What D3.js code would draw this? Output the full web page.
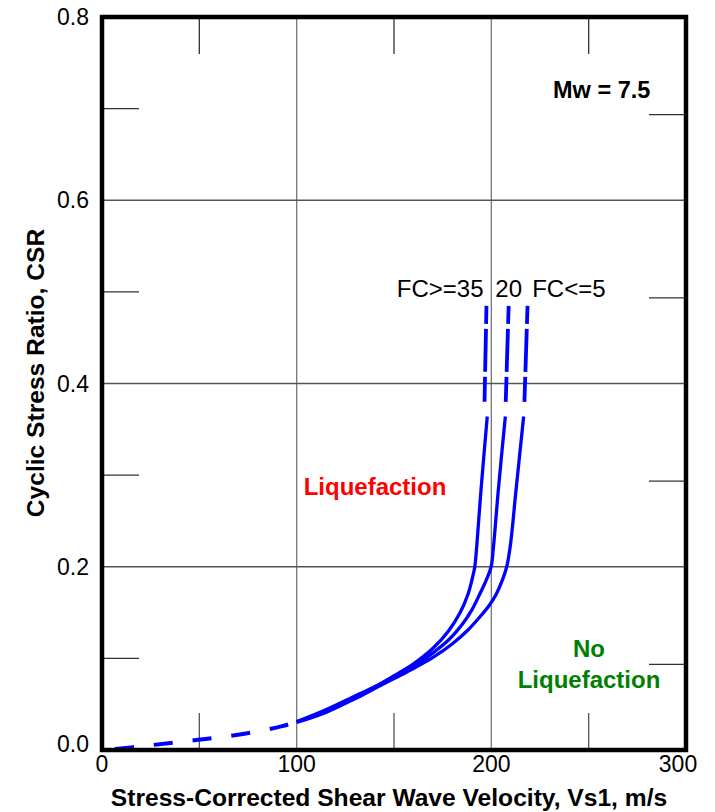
<!DOCTYPE html>
<html>
<head>
<meta charset="utf-8">
<script src="https://cdn.jsdelivr.net/npm/d3@7"></script>
<style>
    body { margin: 0; background: #fff; }
    text { font-family: Arial, "Liberation Sans", sans-serif; }
</style>
</head>
<body>
<script>
// ticks
const xTicks = [0, 100, 200, 300];
const yTicks = [0, 0.2, 0.4, 0.6, 0.8];
const xMinor = [50, 150, 250];
const yMinor = [0.1, 0.3, 0.5, 0.7];

// shared low-velocity part (dashed)
const lowDashed = [[6.7, 0.001], [20, 0.004], [36.4, 0.008], [56.4, 0.0128], [76.8, 0.019], [92.5, 0.026], [100, 0.0306]];

// solid parts of the three curves, [Vs1, CSR]
const fc35 = [[100, 0.031], [115, 0.044], [130, 0.059], [140, 0.069], [150, 0.081], [160, 0.094], [170, 0.111],
    [178, 0.130], [184, 0.150], [188, 0.170], [190.3, 0.188], [191.5, 0.2], [192.6, 0.225], [194.7, 0.284], [197.9, 0.364]];
const fc20 = [[100, 0.0306], [115, 0.0425], [130, 0.057], [140, 0.068], [150, 0.079], [160, 0.091], [170, 0.106],
    [178, 0.120], [185, 0.137], [190, 0.153], [194, 0.170], [197.5, 0.186], [199.9, 0.2], [201.1, 0.222], [203.6, 0.284], [207.2, 0.364]];
const fc5 = [[100, 0.030], [115, 0.041], [130, 0.056], [140, 0.067], [150, 0.078], [160, 0.089], [170, 0.101],
    [180, 0.116], [188, 0.131], [194, 0.145], [199, 0.158], [202.5, 0.170], [205.4, 0.184], [207.9, 0.2], [209.7, 0.222], [212.7, 0.284], [216.6, 0.364]];

// dashed upper extensions
const fc35Top = [[196.5, 0.38], [197.5, 0.485]];
const fc20Top = [[207.4, 0.38], [208.9, 0.485]];
const fc5Top = [[217, 0.38], [218.6, 0.485]];

const curveLabels = [
    { text: "FC>=35", x: 196, anchor: "end" },
    { text: "20", x: 208.9, anchor: "middle" },
    { text: "FC<=5", x: 221, anchor: "start" }
];

const width = 715, height = 812;
const x = d3.scaleLinear().domain([0, 300]).range([102, 686]);
const y = d3.scaleLinear().domain([0, 0.8]).range([750, 17]);

const svg = d3.select("body").append("svg")
    .attr("width", width)
    .attr("height", height);

// grid lines
svg.selectAll("line.gx")
    .data(xTicks.slice(1, -1))
  .enter().append("line")
    .attr("class", "gx")
    .attr("x1", d => x(d)).attr("x2", d => x(d))
    .attr("y1", y(0)).attr("y2", y(0.8))
    .attr("stroke", "#777").attr("stroke-width", 1.3);

svg.selectAll("line.gy")
    .data(yTicks.slice(1, -1))
  .enter().append("line")
    .attr("class", "gy")
    .attr("x1", x(0)).attr("x2", x(300))
    .attr("y1", d => y(d)).attr("y2", d => y(d))
    .attr("stroke", "#555").attr("stroke-width", 1.3);

// minor ticks, inside the frame on all four sides
const tickLen = 37;
xMinor.forEach(v => {
    svg.append("line")
        .attr("x1", x(v)).attr("x2", x(v))
        .attr("y1", y(0.8)).attr("y2", y(0.8) + tickLen)
        .attr("stroke", "#333").attr("stroke-width", 1.3);
    svg.append("line")
        .attr("x1", x(v)).attr("x2", x(v))
        .attr("y1", y(0)).attr("y2", y(0) - tickLen)
        .attr("stroke", "#555").attr("stroke-width", 1.3);
});
yMinor.forEach(v => {
    svg.append("line")
        .attr("x1", x(0)).attr("x2", x(0) + tickLen)
        .attr("y1", y(v)).attr("y2", y(v))
        .attr("stroke", "#333").attr("stroke-width", 1.3);
    svg.append("line")
        .attr("x1", x(300)).attr("x2", x(300) - tickLen)
        .attr("y1", y(v) + 6).attr("y2", y(v) + 6)
        .attr("stroke", "#333").attr("stroke-width", 1.3);
});

// curves
const line = d3.line()
    .x(d => x(d[0]))
    .y(d => y(d[1]))
    .curve(d3.curveCatmullRom.alpha(0.5));

svg.append("path")
    .datum(lowDashed)
    .attr("d", line)
    .attr("fill", "none")
    .attr("stroke", "#0000ff")
    .attr("stroke-width", 4)
    .attr("stroke-dasharray", "19,20");

[fc35, fc20, fc5].forEach(c => {
    svg.append("path")
        .datum(c)
        .attr("d", line)
        .attr("fill", "none")
        .attr("stroke", "#0000ff")
        .attr("stroke-width", 3.3);
});

[fc35Top, fc20Top, fc5Top].forEach(c => {
    svg.append("path")
        .datum(c)
        .attr("d", line)
        .attr("fill", "none")
        .attr("stroke", "#0000ff")
        .attr("stroke-width", 3.8)
        .attr("stroke-dasharray", "25,5,43,5,18");
});

// frame
svg.append("rect")
    .attr("x", x(0)).attr("y", y(0.8))
    .attr("width", x(300) - x(0))
    .attr("height", y(0) - y(0.8))
    .attr("fill", "none")
    .attr("stroke", "#000")
    .attr("stroke-width", 4.5);

// tick labels
svg.selectAll("text.xl")
    .data(xTicks)
  .enter().append("text")
    .attr("class", "xl")
    .attr("x", d => x(d))
    .attr("dx", d => d === 300 ? -8 : 0)
    .attr("y", 772)
    .attr("text-anchor", "middle")
    .attr("font-size", 23)
    .text(d => d);

svg.selectAll("text.yl")
    .data(yTicks)
  .enter().append("text")
    .attr("class", "yl")
    .attr("x", 89)
    .attr("y", d => y(d))
    .attr("dy", d => d === 0 ? "0.1em" : "0.35em")
    .attr("text-anchor", "end")
    .attr("font-size", 23)
    .text(d => d.toFixed(1));

// axis titles
svg.append("text")
    .attr("x", 389)
    .attr("y", 806)
    .attr("text-anchor", "middle")
    .attr("font-size", 24.6)
    .attr("font-weight", "bold")
    .text("Stress-Corrected Shear Wave Velocity, Vs1, m/s");

svg.append("text")
    .attr("transform", "translate(44,373) rotate(-90)")
    .attr("text-anchor", "middle")
    .attr("font-size", 24.6)
    .attr("font-weight", "bold")
    .text("Cyclic Stress Ratio, CSR");

// annotations
svg.append("text")
    .attr("x", 553).attr("y", 98)
    .attr("font-size", 23.5)
    .attr("font-weight", "bold")
    .text("Mw = 7.5");

svg.selectAll("text.cl")
    .data(curveLabels)
  .enter().append("text")
    .attr("class", "cl")
    .attr("x", d => x(d.x))
    .attr("y", 297)
    .attr("text-anchor", d => d.anchor)
    .attr("font-size", 24)
    .text(d => d.text);

svg.append("text")
    .attr("x", 375).attr("y", 495)
    .attr("text-anchor", "middle")
    .attr("font-size", 24)
    .attr("font-weight", "bold")
    .attr("fill", "#ff0000")
    .text("Liquefaction");

svg.append("text")
    .attr("x", 589).attr("y", 657)
    .attr("text-anchor", "middle")
    .attr("font-size", 24)
    .attr("font-weight", "bold")
    .attr("fill", "#008000")
    .text("No");

svg.append("text")
    .attr("x", 589).attr("y", 688)
    .attr("text-anchor", "middle")
    .attr("font-size", 24)
    .attr("font-weight", "bold")
    .attr("fill", "#008000")
    .text("Liquefaction");
</script>
</body>
</html>
